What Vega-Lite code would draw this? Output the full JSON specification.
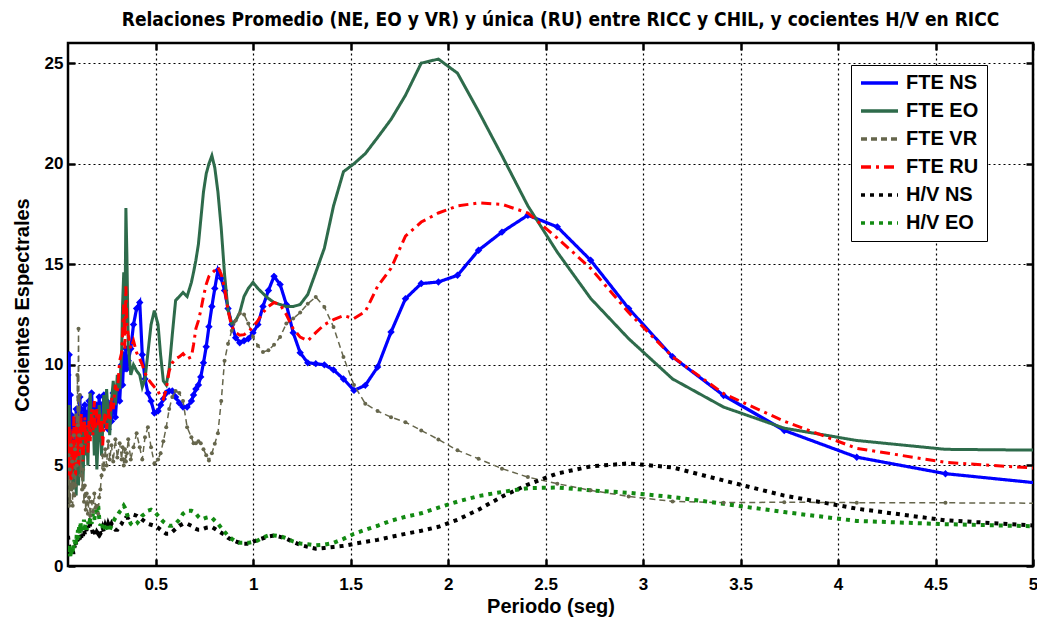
{
  "$schema": "https://vega.github.io/schema/vega-lite/v6.json",
  "width": 965,
  "height": 523,
  "autosize": {"type": "none"},
  "padding": {"left": 68, "top": 43, "right": 4, "bottom": 55},
  "background": "white",
  "title": {
    "text": "Relaciones Promedio (NE, EO y VR) y única (RU) entre RICC y CHIL, y cocientes H/V en RICC",
    "font": "DejaVu Sans Condensed, Liberation Sans",
    "fontSize": 19,
    "fontWeight": "bold",
    "color": "black",
    "frame": "group",
    "anchor": "middle",
    "dx": 10,
    "offset": 12
  },
  "config": {
    "view": {"stroke": "black", "strokeWidth": 2.5},
    "axis": {
      "domain": false,
      "grid": false,
      "ticks": true,
      "tickColor": "black",
      "tickWidth": 2.5,
      "tickSize": -7,
      "labelFont": "Liberation Sans",
      "labelFontSize": 17,
      "labelFontWeight": "bold",
      "labelColor": "black",
      "labelOverlap": false,
      "labelBound": false,
      "labelFlush": false,
      "titleFont": "Liberation Sans",
      "titleFontSize": 20,
      "titleFontWeight": "bold",
      "titleColor": "black"
    }
  },
  "data": {
    "values": [
      {"T":0.050,"NS":9.5,"EO":7.0,"VR":3.5,"RU":6.0,"HVNS":1.5,"HVEO":0.9},
      {"T":0.053,"NS":6.0,"EO":5.5,"VR":5.5,"RU":4.5,"HVNS":1.2,"HVEO":0.7},
      {"T":0.056,"NS":10.5,"EO":8.0,"VR":3.0,"RU":7.0,"HVNS":1.0,"HVEO":1.0},
      {"T":0.059,"NS":5.5,"EO":5.0,"VR":4.8,"RU":5.0,"HVNS":0.8,"HVEO":0.6},
      {"T":0.062,"NS":8.5,"EO":6.5,"VR":3.2,"RU":6.5,"HVNS":0.9,"HVEO":0.5},
      {"T":0.065,"NS":5.0,"EO":4.5,"VR":6.0,"RU":4.2,"HVNS":0.6,"HVEO":0.8},
      {"T":0.068,"NS":7.5,"EO":6.0,"VR":3.8,"RU":5.5,"HVNS":0.8,"HVEO":0.5},
      {"T":0.071,"NS":5.5,"EO":4.0,"VR":5.2,"RU":4.8,"HVNS":0.7,"HVEO":0.9},
      {"T":0.074,"NS":7.0,"EO":5.5,"VR":3.0,"RU":6.8,"HVNS":0.9,"HVEO":0.7},
      {"T":0.077,"NS":4.8,"EO":3.8,"VR":4.5,"RU":5.2,"HVNS":0.6,"HVEO":1.1},
      {"T":0.080,"NS":6.5,"EO":5.0,"VR":6.5,"RU":7.5,"HVNS":0.8,"HVEO":0.9},
      {"T":0.083,"NS":5.8,"EO":6.2,"VR":3.5,"RU":5.0,"HVNS":1.0,"HVEO":1.3},
      {"T":0.086,"NS":7.2,"EO":4.2,"VR":5.8,"RU":6.2,"HVNS":0.9,"HVEO":1.0},
      {"T":0.089,"NS":6.0,"EO":5.5,"VR":4.0,"RU":4.5,"HVNS":1.2,"HVEO":1.4},
      {"T":0.092,"NS":7.8,"EO":3.5,"VR":7.5,"RU":5.8,"HVNS":1.0,"HVEO":1.1},
      {"T":0.095,"NS":6.2,"EO":5.8,"VR":5.0,"RU":7.2,"HVNS":1.3,"HVEO":1.6},
      {"T":0.098,"NS":5.5,"EO":4.5,"VR":9.5,"RU":5.5,"HVNS":1.1,"HVEO":1.3},
      {"T":0.101,"NS":7.0,"EO":6.0,"VR":7.0,"RU":6.5,"HVNS":1.4,"HVEO":1.8},
      {"T":0.104,"NS":6.0,"EO":4.0,"VR":11.8,"RU":5.0,"HVNS":1.2,"HVEO":1.4},
      {"T":0.107,"NS":7.5,"EO":5.2,"VR":6.5,"RU":6.0,"HVNS":1.5,"HVEO":2.0},
      {"T":0.111,"NS":8.4,"EO":6.5,"VR":8.5,"RU":7.0,"HVNS":1.3,"HVEO":1.6},
      {"T":0.114,"NS":6.5,"EO":5.0,"VR":4.5,"RU":5.8,"HVNS":1.6,"HVEO":2.2},
      {"T":0.118,"NS":7.8,"EO":6.8,"VR":6.0,"RU":7.6,"HVNS":1.4,"HVEO":1.7},
      {"T":0.122,"NS":6.0,"EO":5.2,"VR":3.8,"RU":6.0,"HVNS":1.7,"HVEO":2.0},
      {"T":0.127,"NS":7.2,"EO":4.2,"VR":4.8,"RU":5.2,"HVNS":1.5,"HVEO":1.8},
      {"T":0.132,"NS":6.4,"EO":6.0,"VR":3.2,"RU":6.5,"HVNS":1.8,"HVEO":2.3},
      {"T":0.136,"NS":8.0,"EO":7.2,"VR":4.0,"RU":7.4,"HVNS":1.6,"HVEO":1.9},
      {"T":0.141,"NS":6.8,"EO":5.5,"VR":2.8,"RU":6.0,"HVNS":1.9,"HVEO":2.1},
      {"T":0.146,"NS":7.6,"EO":6.8,"VR":3.6,"RU":7.0,"HVNS":1.7,"HVEO":1.8},
      {"T":0.152,"NS":6.5,"EO":5.0,"VR":2.6,"RU":5.6,"HVNS":2.0,"HVEO":2.2},
      {"T":0.158,"NS":8.2,"EO":7.5,"VR":3.4,"RU":7.2,"HVNS":1.8,"HVEO":2.0},
      {"T":0.164,"NS":7.0,"EO":8.6,"VR":2.5,"RU":6.2,"HVNS":2.1,"HVEO":2.4},
      {"T":0.171,"NS":8.6,"EO":6.5,"VR":3.2,"RU":7.8,"HVNS":1.9,"HVEO":2.1},
      {"T":0.178,"NS":7.2,"EO":7.8,"VR":2.7,"RU":6.5,"HVNS":1.6,"HVEO":2.6},
      {"T":0.185,"NS":7.8,"EO":5.5,"VR":3.6,"RU":8.2,"HVNS":1.8,"HVEO":2.3},
      {"T":0.191,"NS":6.8,"EO":7.0,"VR":2.9,"RU":6.8,"HVNS":1.5,"HVEO":2.8},
      {"T":0.198,"NS":8.0,"EO":4.8,"VR":3.0,"RU":7.8,"HVNS":1.7,"HVEO":2.5},
      {"T":0.205,"NS":7.2,"EO":6.5,"VR":2.6,"RU":7.0,"HVNS":1.6,"HVEO":3.0},
      {"T":0.210,"NS":8.4,"EO":8.0,"VR":3.4,"RU":7.6,"HVNS":1.8,"HVEO":2.4},
      {"T":0.216,"NS":7.0,"EO":7.0,"VR":3.8,"RU":6.6,"HVNS":1.6,"HVEO":2.0},
      {"T":0.222,"NS":8.0,"EO":5.5,"VR":4.5,"RU":7.2,"HVNS":1.7,"HVEO":2.2},
      {"T":0.228,"NS":7.4,"EO":6.8,"VR":5.5,"RU":6.0,"HVNS":1.9,"HVEO":1.9},
      {"T":0.234,"NS":8.5,"EO":8.5,"VR":4.8,"RU":7.0,"HVNS":1.7,"HVEO":2.1},
      {"T":0.241,"NS":7.0,"EO":7.0,"VR":5.8,"RU":7.6,"HVNS":2.0,"HVEO":1.8},
      {"T":0.248,"NS":8.2,"EO":8.8,"VR":5.0,"RU":6.8,"HVNS":1.8,"HVEO":2.0},
      {"T":0.256,"NS":6.8,"EO":7.5,"VR":6.2,"RU":7.8,"HVNS":2.1,"HVEO":1.7},
      {"T":0.264,"NS":8.0,"EO":6.5,"VR":5.3,"RU":7.2,"HVNS":1.9,"HVEO":1.8},
      {"T":0.273,"NS":7.2,"EO":8.2,"VR":6.0,"RU":8.4,"HVNS":2.1,"HVEO":2.0},
      {"T":0.282,"NS":8.6,"EO":9.2,"VR":5.2,"RU":7.8,"HVNS":1.9,"HVEO":2.2},
      {"T":0.293,"NS":7.4,"EO":8.0,"VR":6.3,"RU":9.0,"HVNS":1.8,"HVEO":2.4},
      {"T":0.303,"NS":8.8,"EO":9.5,"VR":5.4,"RU":8.6,"HVNS":1.8,"HVEO":2.5},
      {"T":0.315,"NS":8.2,"EO":8.8,"VR":6.1,"RU":10.2,"HVNS":2.0,"HVEO":2.7},
      {"T":0.325,"NS":10.0,"EO":10.5,"VR":5.3,"RU":10.6,"HVNS":2.1,"HVEO":2.8},
      {"T":0.330,"NS":9.0,"EO":13.0,"VR":5.9,"RU":11.5,"HVNS":2.2,"HVEO":2.9},
      {"T":0.336,"NS":10.5,"EO":14.6,"VR":5.0,"RU":13.0,"HVNS":2.3,"HVEO":3.0},
      {"T":0.342,"NS":9.8,"EO":12.0,"VR":5.8,"RU":10.8,"HVNS":2.3,"HVEO":2.9},
      {"T":0.347,"NS":10.8,"EO":17.8,"VR":5.2,"RU":13.9,"HVNS":2.4,"HVEO":2.8},
      {"T":0.352,"NS":9.8,"EO":15.5,"VR":5.6,"RU":12.0,"HVNS":2.4,"HVEO":2.6},
      {"T":0.359,"NS":10.2,"EO":11.0,"VR":6.3,"RU":11.5,"HVNS":2.4,"HVEO":2.4},
      {"T":0.372,"NS":10.8,"EO":9.5,"VR":5.3,"RU":10.8,"HVNS":2.5,"HVEO":2.1},
      {"T":0.386,"NS":12.0,"EO":10.0,"VR":5.9,"RU":11.2,"HVNS":2.55,"HVEO":2.0},
      {"T":0.402,"NS":12.8,"EO":9.7,"VR":6.6,"RU":10.6,"HVNS":2.5,"HVEO":2.1},
      {"T":0.418,"NS":13.1,"EO":9.5,"VR":5.9,"RU":10.3,"HVNS":2.4,"HVEO":2.3},
      {"T":0.431,"NS":10.5,"EO":8.9,"VR":5.3,"RU":10.0,"HVNS":2.3,"HVEO":2.5},
      {"T":0.445,"NS":9.3,"EO":9.3,"VR":6.4,"RU":9.6,"HVNS":2.2,"HVEO":2.6},
      {"T":0.460,"NS":8.6,"EO":10.6,"VR":6.9,"RU":9.3,"HVNS":2.1,"HVEO":2.75},
      {"T":0.476,"NS":8.2,"EO":12.0,"VR":5.9,"RU":9.1,"HVNS":2.05,"HVEO":2.8},
      {"T":0.493,"NS":7.6,"EO":12.7,"VR":5.1,"RU":8.9,"HVNS":2.0,"HVEO":2.7},
      {"T":0.512,"NS":7.7,"EO":12.0,"VR":5.3,"RU":8.7,"HVNS":1.9,"HVEO":2.5},
      {"T":0.525,"NS":8.0,"EO":10.5,"VR":5.6,"RU":8.4,"HVNS":1.8,"HVEO":2.35},
      {"T":0.539,"NS":8.3,"EO":9.2,"VR":6.2,"RU":8.3,"HVNS":1.7,"HVEO":2.2},
      {"T":0.554,"NS":8.6,"EO":9.0,"VR":6.9,"RU":8.8,"HVNS":1.6,"HVEO":2.1},
      {"T":0.569,"NS":8.7,"EO":9.8,"VR":7.8,"RU":9.7,"HVNS":1.6,"HVEO":2.0},
      {"T":0.585,"NS":8.7,"EO":11.5,"VR":8.4,"RU":10.1,"HVNS":1.7,"HVEO":2.0},
      {"T":0.602,"NS":8.4,"EO":13.2,"VR":8.7,"RU":10.3,"HVNS":1.85,"HVEO":2.1},
      {"T":0.621,"NS":8.1,"EO":13.4,"VR":8.6,"RU":10.4,"HVNS":2.0,"HVEO":2.3},
      {"T":0.640,"NS":7.9,"EO":13.6,"VR":8.2,"RU":10.56,"HVNS":2.1,"HVEO":2.6},
      {"T":0.661,"NS":7.9,"EO":13.4,"VR":6.9,"RU":10.3,"HVNS":2.1,"HVEO":2.75},
      {"T":0.683,"NS":8.2,"EO":14.1,"VR":6.4,"RU":10.4,"HVNS":2.0,"HVEO":2.75},
      {"T":0.694,"NS":8.5,"EO":14.6,"VR":6.1,"RU":11.0,"HVNS":1.9,"HVEO":2.7},
      {"T":0.706,"NS":8.8,"EO":15.2,"VR":6.1,"RU":11.8,"HVNS":1.85,"HVEO":2.6},
      {"T":0.719,"NS":9.0,"EO":16.0,"VR":6.2,"RU":12.2,"HVNS":1.8,"HVEO":2.45},
      {"T":0.731,"NS":9.4,"EO":17.2,"VR":6.1,"RU":12.7,"HVNS":1.8,"HVEO":2.35},
      {"T":0.745,"NS":10.1,"EO":18.6,"VR":5.8,"RU":13.4,"HVNS":1.85,"HVEO":2.35},
      {"T":0.759,"NS":10.9,"EO":19.5,"VR":5.5,"RU":14.0,"HVNS":1.9,"HVEO":2.4},
      {"T":0.773,"NS":11.9,"EO":20.0,"VR":5.25,"RU":14.4,"HVNS":1.92,"HVEO":2.43},
      {"T":0.788,"NS":12.9,"EO":20.4,"VR":5.6,"RU":14.55,"HVNS":1.93,"HVEO":2.4},
      {"T":0.803,"NS":13.8,"EO":19.8,"VR":6.08,"RU":14.7,"HVNS":1.85,"HVEO":2.25},
      {"T":0.819,"NS":14.7,"EO":18.6,"VR":6.6,"RU":14.87,"HVNS":1.75,"HVEO":2.1},
      {"T":0.836,"NS":14.3,"EO":16.8,"VR":8.2,"RU":14.5,"HVNS":1.65,"HVEO":1.9},
      {"T":0.853,"NS":13.7,"EO":14.5,"VR":10.2,"RU":13.8,"HVNS":1.55,"HVEO":1.7},
      {"T":0.871,"NS":12.8,"EO":12.7,"VR":11.05,"RU":12.7,"HVNS":1.4,"HVEO":1.5},
      {"T":0.890,"NS":12.0,"EO":12.05,"VR":11.7,"RU":11.9,"HVNS":1.3,"HVEO":1.35},
      {"T":0.910,"NS":11.35,"EO":12.2,"VR":12.2,"RU":11.6,"HVNS":1.22,"HVEO":1.22},
      {"T":0.931,"NS":11.1,"EO":12.6,"VR":12.55,"RU":11.47,"HVNS":1.15,"HVEO":1.15},
      {"T":0.953,"NS":11.2,"EO":13.4,"VR":12.5,"RU":11.5,"HVNS":1.1,"HVEO":1.15},
      {"T":0.975,"NS":11.3,"EO":13.8,"VR":12.05,"RU":11.65,"HVNS":1.1,"HVEO":1.15},
      {"T":0.999,"NS":11.6,"EO":14.1,"VR":11.4,"RU":11.88,"HVNS":1.2,"HVEO":1.2},
      {"T":1.024,"NS":12.0,"EO":13.8,"VR":10.95,"RU":12.2,"HVNS":1.3,"HVEO":1.27},
      {"T":1.050,"NS":12.9,"EO":13.55,"VR":10.64,"RU":12.6,"HVNS":1.38,"HVEO":1.42},
      {"T":1.078,"NS":13.7,"EO":13.3,"VR":10.72,"RU":12.9,"HVNS":1.47,"HVEO":1.52},
      {"T":1.107,"NS":14.4,"EO":13.1,"VR":11.0,"RU":13.1,"HVNS":1.52,"HVEO":1.52},
      {"T":1.138,"NS":14.0,"EO":13.0,"VR":11.38,"RU":13.0,"HVNS":1.45,"HVEO":1.48},
      {"T":1.170,"NS":13.0,"EO":12.9,"VR":12.05,"RU":12.5,"HVNS":1.36,"HVEO":1.38},
      {"T":1.205,"NS":11.6,"EO":12.9,"VR":12.3,"RU":11.8,"HVNS":1.2,"HVEO":1.22},
      {"T":1.241,"NS":10.6,"EO":13.0,"VR":12.6,"RU":11.38,"HVNS":1.05,"HVEO":1.12},
      {"T":1.280,"NS":10.1,"EO":13.5,"VR":13.04,"RU":11.2,"HVNS":0.95,"HVEO":1.08},
      {"T":1.321,"NS":10.06,"EO":14.6,"VR":13.37,"RU":11.6,"HVNS":0.86,"HVEO":1.03},
      {"T":1.365,"NS":10.0,"EO":15.8,"VR":12.88,"RU":12.0,"HVNS":0.9,"HVEO":1.06},
      {"T":1.412,"NS":9.75,"EO":17.9,"VR":11.88,"RU":12.25,"HVNS":0.95,"HVEO":1.15},
      {"T":1.463,"NS":9.3,"EO":19.6,"VR":10.39,"RU":12.45,"HVNS":1.0,"HVEO":1.35},
      {"T":1.517,"NS":8.73,"EO":20.0,"VR":9.0,"RU":12.3,"HVNS":1.1,"HVEO":1.6},
      {"T":1.575,"NS":8.98,"EO":20.5,"VR":8.07,"RU":12.65,"HVNS":1.2,"HVEO":1.8},
      {"T":1.638,"NS":9.89,"EO":21.3,"VR":7.7,"RU":13.9,"HVNS":1.3,"HVEO":2.0},
      {"T":1.707,"NS":11.63,"EO":22.2,"VR":7.4,"RU":14.8,"HVNS":1.45,"HVEO":2.25},
      {"T":1.781,"NS":13.29,"EO":23.4,"VR":7.15,"RU":16.4,"HVNS":1.6,"HVEO":2.45},
      {"T":1.862,"NS":14.04,"EO":25.0,"VR":6.74,"RU":17.1,"HVNS":1.75,"HVEO":2.62},
      {"T":1.950,"NS":14.12,"EO":25.2,"VR":6.29,"RU":17.55,"HVNS":1.95,"HVEO":2.9},
      {"T":2.048,"NS":14.45,"EO":24.5,"VR":5.75,"RU":17.9,"HVNS":2.3,"HVEO":3.2},
      {"T":2.156,"NS":15.7,"EO":22.6,"VR":5.33,"RU":18.05,"HVNS":2.8,"HVEO":3.48},
      {"T":2.276,"NS":16.6,"EO":20.4,"VR":4.84,"RU":17.98,"HVNS":3.45,"HVEO":3.68},
      {"T":2.409,"NS":17.44,"EO":17.9,"VR":4.42,"RU":17.55,"HVNS":4.05,"HVEO":3.87},
      {"T":2.560,"NS":16.86,"EO":15.6,"VR":4.09,"RU":16.3,"HVNS":4.6,"HVEO":3.9},
      {"T":2.731,"NS":15.2,"EO":13.3,"VR":3.76,"RU":14.8,"HVNS":4.95,"HVEO":3.76},
      {"T":2.926,"NS":12.8,"EO":11.3,"VR":3.46,"RU":12.6,"HVNS":5.1,"HVEO":3.64},
      {"T":3.151,"NS":10.4,"EO":9.3,"VR":3.21,"RU":10.4,"HVNS":4.9,"HVEO":3.43},
      {"T":3.413,"NS":8.48,"EO":7.9,"VR":3.15,"RU":8.57,"HVNS":4.25,"HVEO":3.09},
      {"T":3.724,"NS":6.74,"EO":6.85,"VR":3.17,"RU":7.2,"HVNS":3.5,"HVEO":2.68},
      {"T":4.096,"NS":5.41,"EO":6.24,"VR":3.15,"RU":5.85,"HVNS":2.85,"HVEO":2.24},
      {"T":4.551,"NS":4.59,"EO":5.8,"VR":3.14,"RU":5.15,"HVNS":2.27,"HVEO":2.08},
      {"T":5.120,"NS":4.03,"EO":5.75,"VR":3.12,"RU":4.8,"HVNS":1.95,"HVEO":1.95}
    ]
  },
  "transform": [{"fold": ["NS", "EO", "VR", "RU", "HVNS", "HVEO"], "as": ["serie", "valor"]}],
  "resolve": {"axis": {"x": "independent", "y": "independent"}},
  "layer": [
    {
      "transform": [{"filter": "datum.serie === 'NS'"}],
      "mark": {"type": "line", "clip": true, "strokeWidth": 3.2},
      "encoding": {
        "x": {"field": "T", "type": "quantitative", "scale": {"domain": [0.05, 5], "nice": false, "zero": false},
          "axis": {"orient": "bottom", "values": [0.5, 1, 1.5, 2, 2.5, 3, 3.5, 4, 4.5, 5], "format": "~g", "grid": true, "gridColor": "black", "gridDash": [2, 3], "gridWidth": 1.2, "gridOpacity": 1, "labelPadding": 17, "title": "Periodo (seg)", "titlePadding": 4}},
        "y": {"field": "valor", "type": "quantitative", "scale": {"domain": [0, 26], "nice": false, "zero": true},
          "axis": {"orient": "left", "values": [0, 5, 10, 15, 20, 25], "grid": true, "gridColor": "black", "gridDash": [2, 3], "gridWidth": 1.2, "gridOpacity": 1, "labelPadding": 12, "title": "Cocientes Espectrales", "titlePadding": 12}},
        "color": {"field": "serie", "type": "nominal",
          "scale": {"domain": ["NS", "EO", "VR", "RU", "HVNS", "HVEO"], "range": ["#0000ff", "#2e6b4b", "#66664c", "#ff0000", "#000000", "#128a12"]},
          "legend": {"orient": "none", "legendX": 783, "legendY": 22, "title": null, "symbolType": "stroke", "symbolSize": 1369, "symbolStrokeWidth": 3.5,
            "labelFont": "Liberation Sans", "labelFontSize": 20, "labelFontWeight": "bold", "labelColor": "black", "labelOffset": 6,
            "strokeColor": "black", "fillColor": "white", "padding": 8, "rowPadding": 8, "clipHeight": 20,
            "labelExpr": "datum.label == 'HVNS' ? 'H/V NS' : datum.label == 'HVEO' ? 'H/V EO' : 'FTE ' + datum.label"}},
        "strokeDash": {"field": "serie", "type": "nominal",
          "scale": {"domain": ["NS", "EO", "VR", "RU", "HVNS", "HVEO"], "range": [[1, 0], [1, 0], [6, 4], [10, 5, 3, 5], [4, 5], [4, 5]]}}
      }
    },
    {
      "transform": [{"filter": "datum.serie === 'NS' && datum.T < 5"}],
      "mark": {"type": "point", "shape": "diamond", "filled": true, "size": 55, "color": "#0000ff", "opacity": 1, "clip": true},
      "encoding": {
        "x": {"field": "T", "type": "quantitative", "axis": null},
        "y": {"field": "valor", "type": "quantitative", "axis": null}
      }
    },
    {
      "transform": [{"filter": "datum.serie !== 'NS'"}],
      "mark": {"type": "line", "clip": true},
      "encoding": {
        "x": {"field": "T", "type": "quantitative", "axis": null},
        "y": {"field": "valor", "type": "quantitative", "axis": null},
        "color": {"field": "serie", "type": "nominal",
          "scale": {"domain": ["NS", "EO", "VR", "RU", "HVNS", "HVEO"], "range": ["#0000ff", "#2e6b4b", "#66664c", "#ff0000", "#000000", "#128a12"]}},
        "strokeDash": {"field": "serie", "type": "nominal",
          "scale": {"domain": ["NS", "EO", "VR", "RU", "HVNS", "HVEO"], "range": [[1, 0], [1, 0], [6, 4], [10, 5, 3, 5], [4, 5], [4, 5]]}},
        "strokeWidth": {"condition": [{"test": "datum.serie === 'VR'", "value": 1.5}, {"test": "datum.serie === 'HVNS' || datum.serie === 'HVEO'", "value": 4}], "value": 3}
      }
    },
    {
      "transform": [{"filter": "datum.serie === 'VR' && datum.T < 5"}],
      "mark": {"type": "point", "shape": "circle", "filled": true, "size": 16, "color": "#66664c", "opacity": 1, "clip": true},
      "encoding": {
        "x": {"field": "T", "type": "quantitative", "axis": {"orient": "top", "values": [0.5, 1, 1.5, 2, 2.5, 3, 3.5, 4, 4.5, 5], "labels": false, "grid": false, "title": null}},
        "y": {"field": "valor", "type": "quantitative", "axis": {"orient": "right", "values": [0, 5, 10, 15, 20, 25], "labels": false, "grid": false, "title": null}}
      }
    }
  ]
}
